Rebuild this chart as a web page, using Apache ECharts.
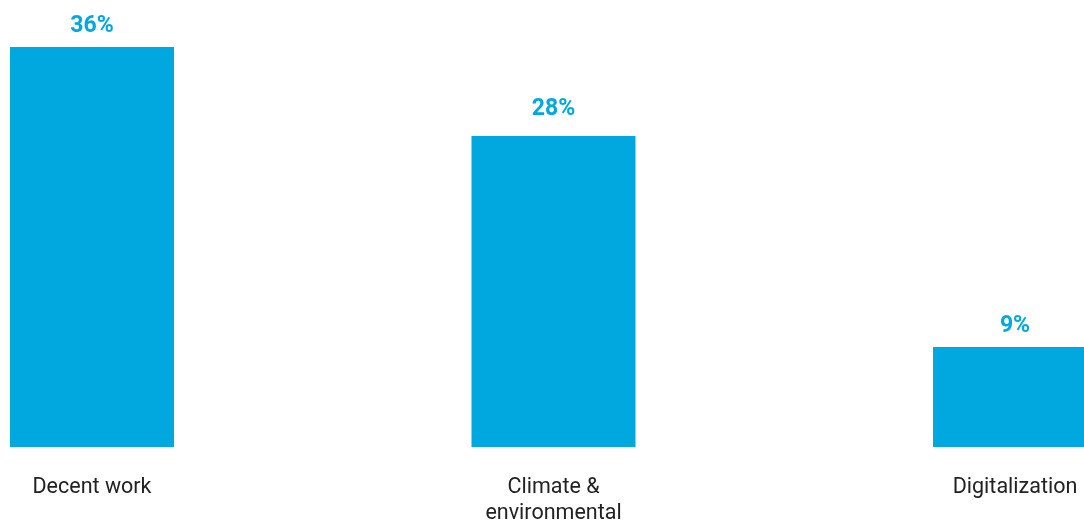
<!DOCTYPE html>
<html>
<head>
<meta charset="utf-8">
<script src="https://cdn.jsdelivr.net/npm/echarts@6/dist/echarts.min.js"></script>
<style>
  html, body { margin: 0; padding: 0; background: #fff; }
  #chart { width: 1084px; height: 522px; }
</style>
</head>
<body>
<div id="chart"></div>
<script>
var categories = ['Decent work', 'Climate &\nenvironmental', 'Digitalization'];
var shares = [36, 28, 9];

var chartDom = document.getElementById('chart');
var myChart = echarts.init(chartDom);
var option;
option = {
  animation: false,
  grid: { left: 92, right: 69, top: 47, bottom: 75, outerBoundsMode: 'none', containLabel: false },
  xAxis: {
    type: 'category',
    data: categories,
    boundaryGap: false,
    axisLine: { show: false },
    axisTick: { show: false },
    axisLabel: {
      interval: 0,
      margin: 28,
      color: '#222',
      fontFamily: 'Roboto',
      fontSize: 21.5,
      lineHeight: 26,
      verticalAlign: 'top'
    }
  },
  yAxis: {
    type: 'value',
    min: 0,
    max: 36,
    show: false,
    splitLine: { show: false }
  },
  series: [
    {
      type: 'bar',
      // the middle label sits a little higher in the original
      data: shares.map(function (v, i) {
        return i === 1 ? { value: v, label: { distance: 15 } } : v;
      }),
      barWidth: 164,
      itemStyle: { color: '#00a8e0' },
      label: {
        show: true,
        position: 'top',
        distance: 9,
        formatter: '{c}%',
        color: '#00a8e0',
        fontFamily: 'Roboto',
        fontWeight: 'bold',
        fontSize: 23
      }
    }
  ]
};

option && myChart.setOption(option);
</script>
</body>
</html>
